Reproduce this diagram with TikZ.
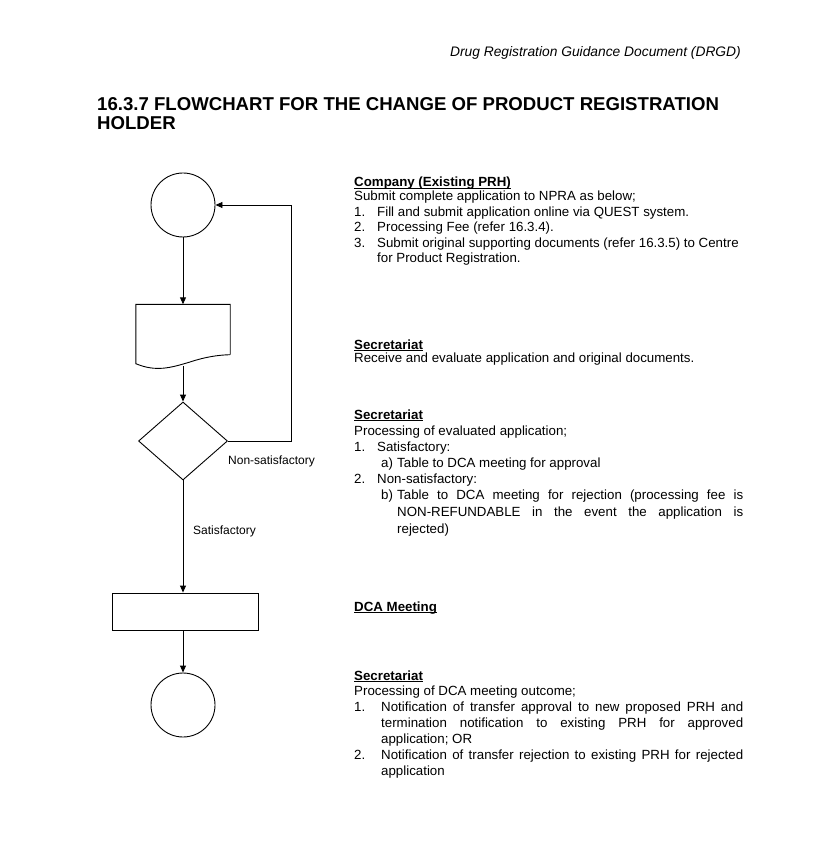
\documentclass[tikz,border=0pt]{standalone}
\usepackage{fontspec}
\setmainfont{Liberation Sans}
\usetikzlibrary{arrows.meta,shapes.geometric,calc}
\newcommand\txtline[4]{\node[txt] (#1) at (#2,-#3) {#4};}
\newcommand\myul[1]{\setbox0\hbox{#1}\rlap{\rule[-1.6pt]{\wd0}{0.8pt}}\box0}
\begin{document}
\begin{tikzpicture}[x=1pt,y=1pt,
  txt/.style={anchor=base west,inner sep=0pt,font=\fontsize{13.3}{15}\selectfont},
  lbl/.style={anchor=base west,inner sep=0pt,font=\fontsize{12}{14}\selectfont},
  ln/.style={line width=0.9pt},
  arr/.style={ln,-{Triangle[length=7pt,width=6pt]}},
  term/.style={circle,draw,line width=0.9pt,minimum size=64pt,inner sep=0pt},
  dec/.style={diamond,draw,line width=0.9pt,minimum width=89pt,minimum height=78pt,inner sep=0pt},
  proc/.style={rectangle,draw,line width=0.9pt,minimum width=146pt,minimum height=37pt,inner sep=0pt}]
\useasboundingbox (0,0) rectangle (816,-866);
% header and title
\node[anchor=base east,inner sep=0pt,font=\fontsize{13.8}{15}\selectfont\itshape] (hdr) at (741,-57) {Drug Registration Guidance Document (DRGD)};
\node[anchor=base west,inner sep=0pt,font=\fontsize{18.6}{20}\selectfont\bfseries] (ttl1) at (97,-111) {16.3.7 FLOWCHART FOR THE CHANGE OF PRODUCT REGISTRATION};
\node[anchor=base west,inner sep=0pt,font=\fontsize{18.6}{20}\selectfont\bfseries] (ttl2) at (97,-130) {HOLDER};
% flowchart
\node[term] (c1) at (183,-205) {};
\node[inner sep=0pt,minimum width=94pt,minimum height=61pt] (doc) at (183,-335) {};
\draw[ln] (doc.south east) ++(0,11) -- (doc.north east) -- (doc.north west) -- ($(doc.south west)+(0,2)$)
  .. controls (156,-372) and (170,-368) .. (190,-362)
  .. controls (205,-357) and (218,-355) .. ($(doc.south east)+(0,11)$);
\coordinate (docb) at (183,-366);
\node[dec] (dia) at (183,-441) {};
\node[proc] (rect) at (185,-611.5) {};
\node[term] (c2) at (183,-705) {};
\draw[arr] (c1.south) -- (doc.north -| c1.south);
\draw[arr] (docb) -- (dia.north);
\draw[arr] (dia.east) -- ++(63,0) |- (c1.east);
\draw[arr] (dia.south) -- (dia.south |- rect.north);
\draw[arr] (dia.south |- rect.south) -- (c2.north);
\node[lbl] (nons) at (228,-464) {Non-satisfactory};
\node[lbl] (sat) at (193,-534) {Satisfactory};
% right column text
\txtline{a1}{354}{187}{\textbf{\myul{Company (Existing PRH)}}}
\txtline{a2}{354}{201}{Submit complete application to NPRA as below;}
\txtline{a3n}{354}{216.5}{1.}
\txtline{a3}{377}{216.5}{Fill and submit application online via QUEST system.}
\txtline{a4n}{354}{232}{2.}
\txtline{a4}{377}{232}{Processing Fee (refer 16.3.4).}
\txtline{a5n}{354}{247.5}{3.}
\txtline{a5}{377}{247.5}{Submit original supporting documents (refer 16.3.5) to Centre}
\txtline{a6}{377}{262}{for Product Registration.}
\txtline{b1}{354}{349}{\textbf{\myul{Secretariat}}}
\txtline{b2}{354}{362}{Receive and evaluate application and original documents.}
\txtline{c1t}{354}{419}{\textbf{\myul{Secretariat}}}
\txtline{c2t}{354}{435}{Processing of evaluated application;}
\txtline{c3n}{354}{451}{1.}
\txtline{c3}{377}{451}{Satisfactory:}
\txtline{c4n}{381}{467}{a)}
\txtline{c4}{397}{467}{Table to DCA meeting for approval}
\txtline{c5n}{354}{483}{2.}
\txtline{c5}{377}{483}{Non-satisfactory:}
\txtline{c6n}{381}{499}{b)}
\txtline{c6}{397}{499}{\makebox[346pt][s]{Table to DCA meeting for rejection (processing fee is}}
\txtline{c7}{397}{516}{\makebox[346pt][s]{NON-REFUNDABLE in the event the application is}}
\txtline{c8}{397}{533}{rejected)}
\txtline{d1}{354}{611}{\textbf{\myul{DCA Meeting}}}
\txtline{e1}{354}{680}{\textbf{\myul{Secretariat}}}
\txtline{e2}{354}{695}{Processing of DCA meeting outcome;}
\txtline{e3n}{354}{711}{1.}
\txtline{e3}{381}{711}{\makebox[362pt][s]{Notification of transfer approval to new proposed PRH and}}
\txtline{e4}{381}{727}{\makebox[362pt][s]{termination notification to existing PRH for approved}}
\txtline{e5}{381}{743}{application; OR}
\txtline{e6n}{354}{759}{2.}
\txtline{e6}{381}{759}{\makebox[362pt][s]{Notification of transfer rejection to existing PRH for rejected}}
\txtline{e7}{381}{775}{application}
\end{tikzpicture}
\end{document}
